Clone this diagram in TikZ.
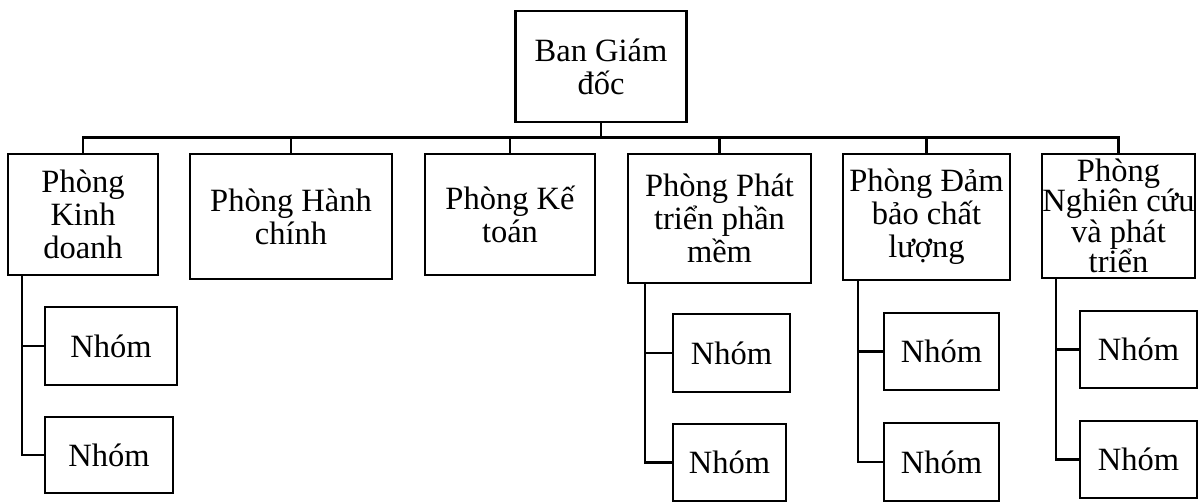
\documentclass[tikz,border=0pt]{standalone}
\usepackage{fontspec}
\setmainfont{Liberation Serif}
\usepackage{tikz}
\tikzset{
  dept/.style={draw, line width=2.2pt, align=center, inner sep=0pt,
    font=\fontsize{32.5}{33}\selectfont},
  conn/.style={line width=2.2pt}
}

\begin{document}
\begin{tikzpicture}[x=1pt,y=-1pt]
\useasboundingbox (0,0) rectangle (1198,502);

\node[dept, minimum width=171pt, minimum height=111pt] (bgd) at (601,66.5) {Ban Giám\\đốc};

\node[dept, minimum width=150pt, minimum height=121pt] (kd) at (83,214.5) {Phòng\\Kinh\\doanh};
\node[dept, minimum width=202pt, minimum height=125pt] (hc) at (291,216.5) {Phòng Hành\\chính};
\node[dept, minimum width=170pt, minimum height=121pt] (kt) at (510,214.5) {Phòng Kế\\toán};
\node[dept, minimum width=183pt, minimum height=129pt] (ptpm) at (719.5,218.5) {Phòng Phát\\triển phần\\mềm};
\node[dept, minimum width=167pt, minimum height=126pt] (db) at (926.5,217) {Phòng Đảm\\bảo chất\\lượng};
\node[dept, minimum width=153pt, minimum height=124pt,
  font=\fontsize{32.5}{30.5}\selectfont] (nc) at (1118.5,216) {Phòng\\Nghiên cứu\\và phát\\triển};

\node[dept, minimum width=132pt, minimum height=78pt] (kd1) at (111,346) {Nhóm};
\node[dept, minimum width=128pt, minimum height=76pt] (kd2) at (109,455) {Nhóm};
\node[dept, minimum width=117pt, minimum height=78pt] (ptpm1) at (731.5,353) {Nhóm};
\node[dept, minimum width=113pt, minimum height=77pt] (ptpm2) at (729.5,462.5) {Nhóm};
\node[dept, minimum width=115pt, minimum height=77pt] (db1) at (941.5,351.5) {Nhóm};
\node[dept, minimum width=115pt, minimum height=78pt] (db2) at (941.5,462) {Nhóm};
\node[dept, minimum width=117pt, minimum height=77pt] (nc1) at (1138.5,349.5) {Nhóm};
\node[dept, minimum width=117pt, minimum height=77pt] (nc2) at (1138.5,459.5) {Nhóm};

% bus line
\coordinate (bus) at (0,137.5);
\draw[conn] (bgd.south) -- (bgd.south |- bus);
\draw[conn] (kd.north) -- (kd.north |- bus) -| (nc.north);
\foreach \d in {hc,kt,ptpm,db}
  \draw[conn] (\d.north) -- (\d.north |- bus);

% groups
\foreach \d/\s in {kd/15,ptpm/18,db/16,nc/15}{
  \draw[conn] ([xshift=\s pt]\d.south west) |- (\d1.west);
  \draw[conn] ([xshift=\s pt]\d.south west) |- (\d2.west);
}
\end{tikzpicture}
\end{document}
